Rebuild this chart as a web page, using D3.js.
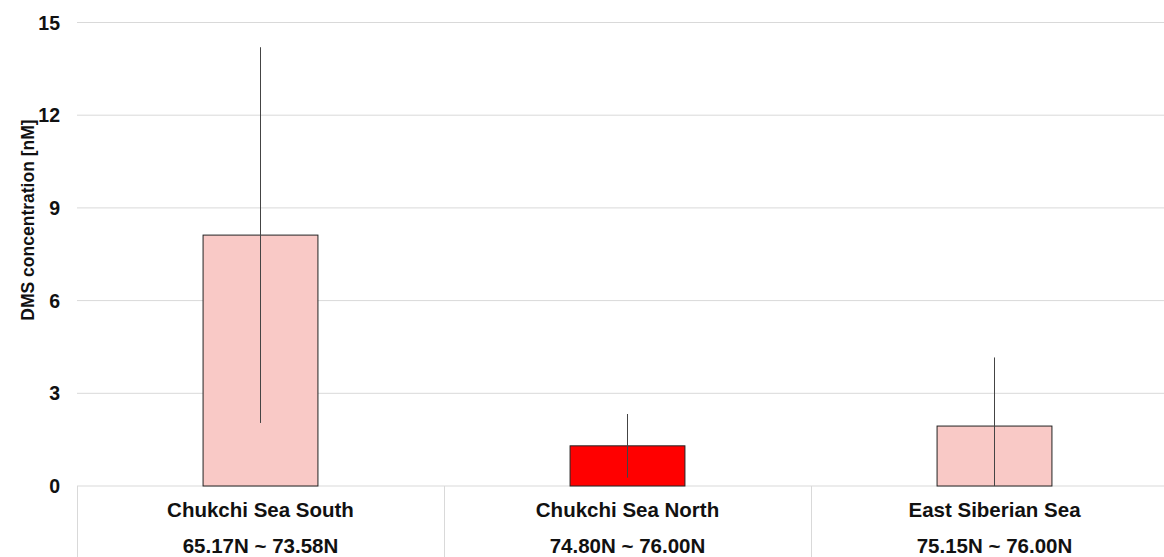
<!DOCTYPE html>
<html>
<head>
<meta charset="utf-8">
<script src="https://cdn.jsdelivr.net/npm/d3@7"></script>
<style>
  body { margin: 0; background: #fff; }
  text { font-family: "Liberation Sans", Arial, sans-serif; font-weight: bold; fill: #111; }
</style>
</head>
<body>
<div id="chart"></div>
<script>
const regions = ['Chukchi Sea South', 'Chukchi Sea North', 'East Siberian Sea'];
const latRanges = ['65.17N ~ 73.58N', '74.80N ~ 76.00N', '75.15N ~ 76.00N'];
const meanDMS = [8.12, 1.30, 1.94];
const sdDMS = [6.08, 1.03, 2.22];
const barColors = ['#f9c9c6', '#ff0000', '#f9c9c6'];
const yTicks = [0, 3, 6, 9, 12, 15];

const width = 1164;
const height = 557;
const margin = { top: 22.5, left: 77, bottom: 71 };
const plotRight = 1178;

const svg = d3.select('#chart')
  .append('svg')
  .attr('width', width)
  .attr('height', height);

const x = d3.scaleBand()
  .domain(regions)
  .range([margin.left, plotRight])
  .padding(0);

const y = d3.scaleLinear()
  .domain([0, 15])
  .range([height - margin.bottom, margin.top]);

const barWidth = x.bandwidth() * 0.313;

// gridlines
svg.append('g')
  .selectAll('line')
  .data(yTicks)
  .enter().append('line')
  .attr('x1', margin.left)
  .attr('x2', plotRight)
  .attr('y1', (d) => y(d))
  .attr('y2', (d) => y(d))
  .attr('stroke', '#d9d9d9')
  .attr('stroke-width', 1);

// y labels
svg.append('g')
  .selectAll('text')
  .data(yTicks)
  .enter().append('text')
  .attr('x', 60)
  .attr('y', (d) => y(d))
  .attr('dy', '0.36em')
  .attr('text-anchor', 'end')
  .style('font-size', '19.5px')
  .text((d) => d);

svg.append('text')
  .attr('transform', `translate(34, 220) rotate(-90)`)
  .attr('text-anchor', 'middle')
  .style('font-size', '17.5px')
  .text('DMS concentration [nM]');

// category separators
svg.append('g')
  .selectAll('line')
  .data(regions)
  .enter().append('line')
  .attr('x1', (d) => x(d) + 0.5)
  .attr('x2', (d) => x(d) + 0.5)
  .attr('y1', y(0))
  .attr('y2', height)
  .attr('stroke', '#d9d9d9');

// bars
svg.append('g')
  .selectAll('rect')
  .data(regions)
  .enter().append('rect')
  .attr('x', (d) => x(d) + x.bandwidth() / 2 - barWidth / 2)
  .attr('y', (d, i) => y(meanDMS[i]))
  .attr('width', barWidth)
  .attr('height', (d, i) => y(0) - y(meanDMS[i]))
  .attr('fill', (d, i) => barColors[i])
  .attr('stroke', '#222')
  .attr('stroke-width', 1);

// error bars
svg.append('g')
  .selectAll('line')
  .data(regions)
  .enter().append('line')
  .attr('x1', (d) => x(d) + x.bandwidth() / 2)
  .attr('x2', (d) => x(d) + x.bandwidth() / 2)
  .attr('y1', (d, i) => y(Math.max(0, meanDMS[i] - sdDMS[i])))
  .attr('y2', (d, i) => y(meanDMS[i] + sdDMS[i]))
  .attr('stroke', '#444')
  .attr('stroke-width', 1);

// category labels
const labels = svg.append('g')
  .selectAll('g')
  .data(regions)
  .enter().append('g')
  .attr('transform', (d) => `translate(${x(d) + x.bandwidth() / 2}, 0)`);

labels.append('text')
  .attr('y', 517)
  .attr('text-anchor', 'middle')
  .style('font-size', '20.5px')
  .text((d) => d);

labels.append('text')
  .attr('y', 553)
  .attr('text-anchor', 'middle')
  .style('font-size', '20.5px')
  .text((d, i) => latRanges[i]);
</script>
</body>
</html>
